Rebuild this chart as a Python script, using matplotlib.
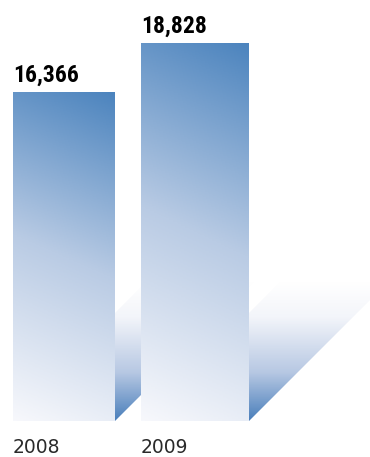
import numpy as np
import matplotlib.pyplot as plt
from matplotlib.patches import Polygon
from matplotlib.colors import LinearSegmentedColormap

# data
years = ['2008', '2009']
values = [16366, 18828]
value_labels = ['16,366', '18,828']

# layout (pixel based, figure is 370x457)
W, H = 370, 457
base_px = 421          # bar baseline from top
top_px = 43            # top of tallest bar
lefts = [0, 1]         # bar left edges in axis units
widths = [102 / 128, 108 / 128]
px_per_unit = 128

fig = plt.figure(figsize=(W / 100, H / 100), dpi=100)
ax = fig.add_axes([0, (H - base_px) / H, 1, base_px / H])
ymax = max(values) * base_px / (base_px - top_px)
xmin = -13 / px_per_unit
xmax = xmin + W / px_per_unit
sx = 1 / px_per_unit          # x units per pixel
sy = ymax / base_px           # y units per pixel

bar_cmap = LinearSegmentedColormap.from_list('bar', ['#f7f8fc', '#b9cbe4', '#4c84be'])
sh_cmap = LinearSegmentedColormap.from_list('sh', [(0, '#4a7fbb'), (0.35, '#b7c8e3'),
                                                    (0.75, '#f3f5fa'), (1, '#ffffff')])

bars = ax.bar(lefts, values, width=widths, align='edge', color='none',
              edgecolor='none', zorder=2)

for i, b in enumerate(bars):
    x0, w, h = b.get_x(), b.get_width(), b.get_height()
    # diagonal shadow behind the bar
    R = x0 + w
    pts = [(R, 0), (R, 108 * sy), (R + 31 * sx, 139 * sy), (R + 139 * sx, 139 * sy)]
    poly = Polygon(pts, closed=True, facecolor='none', edgecolor='none')
    ax.add_patch(poly)
    g = np.linspace(0, 1, 200).reshape(-1, 1)
    im = ax.imshow(g, cmap=sh_cmap, origin='lower', aspect='auto',
                   extent=[R, R + 139 * sx, 0, 139 * sy], zorder=1 + i * 2)
    im.set_clip_path(poly)

    # gradient fill of the bar
    yy, xx = np.mgrid[0:1:200j, 0:1:100j]
    grad = 0.88 * yy + 0.12 * xx
    imb = ax.imshow(grad, cmap=bar_cmap, origin='lower', aspect='auto', vmin=0, vmax=1,
                    extent=[x0, x0 + w, 0, h], zorder=2 + i * 2)
    imb.set_clip_path(b)

    ax.annotate(value_labels[i], (x0, h), xytext=(0, 10.5 * 0.72), textcoords='offset points',
                ha='left', va='baseline', fontsize=17, fontweight='bold',
                family=['Roboto Condensed', 'DejaVu Sans'], color='black')
    ax.annotate(years[i], (x0, 0), xytext=(0, -32 * 0.72), textcoords='offset points',
                ha='left', va='baseline', fontsize=13.5, color='#2a2a2a',
                annotation_clip=False)

ax.set_xlim(xmin, xmax)
ax.set_ylim(0, ymax)
ax.axis('off')

fig.savefig('out.png', dpi=100)
